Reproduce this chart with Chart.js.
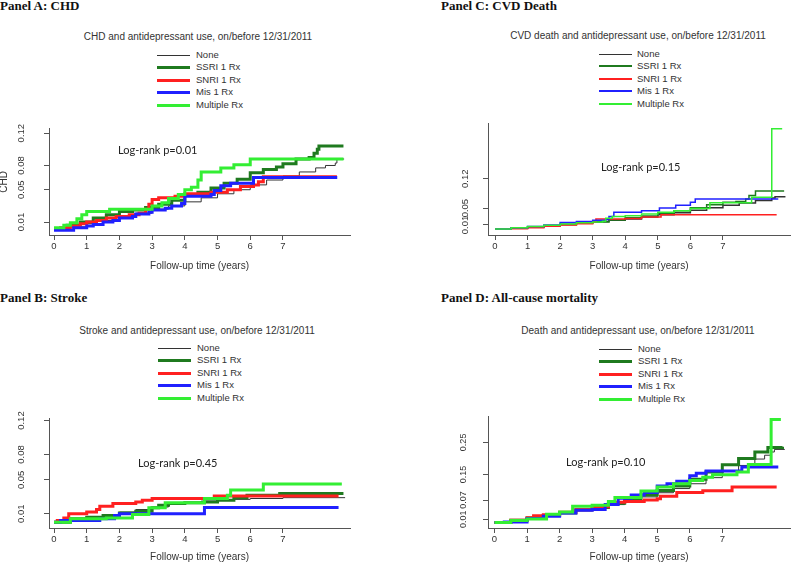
<!DOCTYPE html>
<html>
<head>
<meta charset="utf-8">
<title>Antidepressant use and outcomes</title>
<script src="https://cdn.jsdelivr.net/npm/chart.js@4.4.1/dist/chart.umd.min.js"></script>
<style>
  body { margin: 0; background: #fff; }
  #page { position: relative; width: 800px; height: 567px; overflow: hidden; font-family: "Liberation Sans", Arial, sans-serif; color: #333; }
  .head { position: absolute; font: bold 13px/13px "Liberation Serif", "Times New Roman", serif; color: #111; white-space: nowrap; }
  .ttl { position: absolute; width: 300px; text-align: center; font-size: 10px; line-height: 12px; white-space: nowrap; }
  .lgd { position: absolute; font-size: 9.5px; }
  .lgd .row { position: relative; height: 12.4px; }
  .lgd .ln { position: absolute; left: 0; width: 33px; }
  .lgd .tx { position: absolute; top: 0; line-height: 12.4px; white-space: nowrap; }
  .lr { position: absolute; font: 11px/13px Lato, sans-serif; color: #222; white-space: nowrap; }
  canvas { position: absolute; }
</style>
</head>
<body>
<div id="page">
  <div class="head" style="left:0;top:-1px">Panel A: CHD</div>
  <div class="head" style="left:441px;top:-1px">Panel C: CVD Death</div>
  <div class="head" style="left:0;top:291px">Panel B: Stroke</div>
  <div class="head" style="left:441px;top:291px">Panel D: All-cause mortality</div>

  <div class="ttl" style="left:48px;top:31px">CHD and antidepressant use, on/before 12/31/2011</div>
  <div class="ttl" style="left:488px;top:30px">CVD death and antidepressant use, on/before 12/31/2011</div>
  <div class="ttl" style="left:47px;top:325px">Stroke and antidepressant use, on/before 12/31/2011</div>
  <div class="ttl" style="left:488px;top:325px">Death and antidepressant use, on/before 12/31/2011</div>

  <div class="lgd" id="lgdA" style="left:157px;top:49px"></div>
  <div class="lgd" id="lgdC" style="left:599px;top:48px"></div>
  <div class="lgd" id="lgdB" style="left:158px;top:342px"></div>
  <div class="lgd" id="lgdD" style="left:599px;top:343px"></div>

  <canvas id="chd" width="400" height="170" style="left:0;top:110px"></canvas>
  <canvas id="cvd" width="400" height="170" style="left:400px;top:110px"></canvas>
  <canvas id="stroke" width="400" height="167" style="left:0;top:400px"></canvas>
  <canvas id="death" width="400" height="167" style="left:400px;top:400px"></canvas>

  <div class="lr" id="lrA" style="left:118px;top:143px"></div>
  <div class="lr" id="lrC" style="left:601px;top:160px"></div>
  <div class="lr" id="lrB" style="left:138px;top:456px"></div>
  <div class="lr" id="lrD" style="left:566px;top:455px"></div>
</div>
<script>
const groups = ['None', 'SSRI 1 Rx', 'SNRI 1 Rx', 'Mis 1 Rx', 'Multiple Rx'];
const colors = ['#333333', '#1f7a1f', '#ff2020', '#2020ff', '#33ee33'];
const years = [0, 1, 2, 3, 4, 5, 6, 7];
const chdTicks = [0.01, 0.05, 0.08, 0.12];
const cvdTicks = [0.01, 0.05, 0.12];
const strokeTicks = [0.01, 0.05, 0.08, 0.12];
const deathTicks = [0.01, 0.07, 0.15, 0.25];
const logRank = { A: '0.01', C: '0.15', B: '0.45', D: '0.10' };

// [years, cumulative incidence] for each group
const chdNone = [[0,0],[0.5,0.004],[1,0.008],[1.5,0.012],[2,0.017],[2.5,0.021],[3,0.026],[3.5,0.030],[4,0.035],[4.5,0.040],[5,0.045],[5.5,0.050],[6,0.056],[6.5,0.062],[7,0.067],[7.5,0.072],[8,0.077],[8.3,0.080],[8.6,0.083],[8.65,0.088],[8.87,0.088]];
const chdSSRI = [[0,0.002],[0.4,0.006],[0.8,0.010],[1.2,0.015],[1.6,0.019],[2.0,0.023],[2.4,0.025],[2.8,0.028],[3.2,0.032],[3.6,0.037],[4.0,0.043],[4.4,0.047],[4.8,0.052],[5.2,0.058],[5.6,0.063],[6.0,0.071],[6.4,0.075],[6.8,0.078],[7.0,0.082],[7.4,0.088],[7.8,0.090],[7.95,0.095],[8.05,0.100],[8.1,0.104],[8.85,0.104]];
const chdSNRI = [[0,0.001],[0.2,0.003],[0.5,0.005],[0.8,0.008],[1.0,0.010],[1.3,0.012],[1.6,0.015],[1.9,0.017],[2.3,0.019],[2.6,0.021],[2.8,0.026],[2.9,0.032],[3.0,0.038],[3.2,0.040],[3.7,0.042],[4.0,0.045],[4.8,0.047],[5.3,0.050],[5.7,0.054],[6.1,0.056],[6.25,0.060],[6.4,0.066],[8.65,0.066]];
const chdMis = [[0,0],[0.6,0.003],[1.0,0.005],[1.2,0.007],[1.5,0.010],[1.8,0.012],[2.0,0.015],[2.4,0.017],[2.5,0.020],[2.9,0.022],[3.0,0.025],[3.4,0.027],[3.6,0.030],[3.9,0.033],[4.0,0.042],[4.8,0.044],[4.9,0.049],[5.1,0.055],[5.4,0.058],[6.1,0.065],[8.66,0.065]];
const chdMulti = [[0,0.003],[0.3,0.006],[0.5,0.009],[0.7,0.014],[0.85,0.019],[1.0,0.023],[1.7,0.026],[3.0,0.030],[3.3,0.034],[3.5,0.039],[3.8,0.044],[4.0,0.050],[4.2,0.053],[4.4,0.062],[4.5,0.072],[5.1,0.077],[5.5,0.081],[6.0,0.088],[8.85,0.088]];

const cvdNone = [[0,0],[0.5,0.002],[1,0.005],[1.5,0.008],[2,0.011],[2.5,0.015],[3,0.018],[3.5,0.021],[4,0.024],[4.5,0.029],[5,0.034],[5.5,0.039],[6,0.045],[6.5,0.051],[7,0.057],[7.5,0.062],[8,0.068],[8.5,0.074],[8.6,0.077],[8.92,0.077]];
const cvdSSRI = [[0,0],[0.5,0.003],[1,0.005],[1.5,0.008],[2,0.011],[2.5,0.014],[3,0.017],[3.5,0.022],[4,0.027],[4.5,0.031],[5,0.038],[5.5,0.044],[6,0.051],[6.5,0.058],[7,0.064],[7.4,0.066],[7.7,0.072],[7.8,0.080],[8.0,0.091],[8.88,0.091]];
const cvdSNRI = [[0,0],[0.3,0.001],[1.0,0.003],[1.5,0.007],[2,0.010],[2.5,0.013],[3.0,0.017],[3.1,0.024],[4.0,0.025],[4.5,0.029],[5.1,0.034],[8.65,0.034]];
const cvdMis = [[0,0],[0.5,0.003],[1,0.006],[1.5,0.010],[2,0.016],[2.5,0.018],[3,0.021],[3.4,0.023],[3.5,0.030],[3.65,0.040],[4.5,0.044],[5.05,0.050],[5.55,0.057],[6.0,0.064],[6.15,0.072],[8.7,0.072]];
const cvdMulti = [[0,0],[0.5,0.003],[1,0.006],[1.5,0.009],[2,0.012],[2.5,0.015],[3,0.017],[3.3,0.019],[3.4,0.026],[3.6,0.030],[4.0,0.032],[4.5,0.036],[5.0,0.040],[5.5,0.044],[6.0,0.049],[6.6,0.063],[7.88,0.076],[8.5,0.239],[8.82,0.239]];

const strokeNone = [[0,0],[0.5,0.003],[1,0.006],[1.5,0.009],[2,0.012],[2.5,0.015],[3,0.018],[3.5,0.021],[4,0.023],[4.5,0.025],[5,0.026],[5.5,0.027],[6,0.028],[7,0.029],[8.9,0.029]];
const strokeSSRI = [[0,0],[0.5,0.004],[1,0.006],[1.5,0.008],[2,0.011],[2.5,0.013],[3,0.017],[3.2,0.020],[3.5,0.022],[4.0,0.023],[4.6,0.024],[5.0,0.026],[5.5,0.029],[5.9,0.032],[6.9,0.034],[8.85,0.034]];
const strokeSNRI = [[0,0],[0.1,0.002],[0.3,0.005],[0.45,0.010],[1.0,0.012],[1.3,0.015],[1.4,0.019],[1.8,0.022],[2.5,0.024],[2.7,0.026],[3.0,0.028],[4.9,0.031],[8.7,0.031]];
const strokeMis = [[0,0],[0.2,0.002],[1.4,0.004],[1.85,0.008],[2.0,0.010],[4.6,0.0175],[8.7,0.0175]];
const strokeMulti = [[0,0],[0.5,0.004],[1.6,0.005],[2.4,0.009],[2.9,0.017],[3.4,0.023],[4.6,0.028],[5.3,0.032],[5.4,0.038],[6.4,0.045],[8.8,0.045]];

const deathNone = [[0,0],[0.5,0.007],[1,0.014],[1.5,0.021],[2,0.029],[2.5,0.037],[3,0.046],[3.5,0.056],[4,0.068],[4.5,0.080],[5,0.093],[5.5,0.106],[6,0.121],[6.5,0.140],[7,0.160],[7.5,0.178],[8,0.198],[8.3,0.210],[8.5,0.220],[8.6,0.228],[8.92,0.228]];
const deathSSRI = [[0,0],[0.5,0.007],[1,0.014],[1.5,0.022],[2,0.030],[2.5,0.040],[3,0.047],[3.5,0.060],[4,0.072],[4.5,0.086],[5,0.100],[5.5,0.114],[6,0.135],[6.5,0.158],[7,0.180],[7.5,0.200],[8,0.220],[8.4,0.234],[8.85,0.236]];
const deathSNRI = [[0,0],[0.5,0.007],[1,0.015],[1.2,0.021],[1.5,0.024],[2,0.032],[2.5,0.040],[3,0.049],[3.5,0.057],[3.7,0.063],[4,0.066],[4.6,0.070],[5.0,0.074],[5.1,0.082],[5.6,0.094],[6.4,0.099],[7.3,0.111],[8.67,0.111]];
const deathMis = [[0,0],[0.3,0.002],[1,0.013],[1.5,0.020],[2,0.030],[2.5,0.038],[3,0.041],[3.4,0.056],[3.8,0.076],[4.2,0.086],[4.6,0.094],[5.0,0.114],[5.3,0.121],[5.6,0.129],[6.0,0.146],[6.2,0.154],[6.5,0.161],[7.6,0.173],[8.72,0.173]];
const deathMulti = [[0,0],[0.5,0.006],[1,0.011],[1.6,0.026],[2,0.033],[2.4,0.051],[3.0,0.054],[3.5,0.066],[3.7,0.078],[4.5,0.098],[5.0,0.111],[5.5,0.121],[6.0,0.131],[6.4,0.141],[6.7,0.149],[7.45,0.158],[7.8,0.181],[8.5,0.321],[8.8,0.321]];

const txtColor = '#333';
const axisColor = '#555';

function fillLegend(id, thin) {
  const box = document.getElementById(id);
  groups.forEach((g, i) => {
    const w = thin ? (i === 0 ? 1 : 2) : (i === 0 ? 1 : 3);
    const row = document.createElement('div');
    row.className = 'row';
    row.innerHTML = '<span class="ln" style="top:' + Math.round(6 - w / 2) + 'px;height:' + w + 'px;background:' + colors[i] + '"></span>' +
      '<span class="tx" style="left:' + (thin ? 38 : 39) + 'px">' + g + '</span>';
    box.appendChild(row);
  });
}

function makePanel(p) {
  const widths = p.thin ? [1.5, 1.5, 1.5, 1.5, 1.5] : [1, 3, 3, 3, 3];
  const font = { family: '"Liberation Sans", Arial, sans-serif', size: 10 };
  const tickFont = { family: '"Liberation Sans", Arial, sans-serif', size: p.tickSize || 9.5 };
  return new Chart(document.getElementById(p.id), {
    type: 'line',
    data: {
      datasets: p.series.map((s, i) => ({
        label: groups[i],
        data: s.map(d => ({ x: d[0], y: d[1] })),
        borderColor: colors[i],
        borderWidth: widths[i],
        stepped: true,
        pointRadius: 0,
        fill: false,
        order: groups.length - i
      }))
    },
    options: {
      responsive: false,
      animation: false,
      devicePixelRatio: 1,
      layout: { padding: p.pad },
      plugins: { legend: { display: false }, tooltip: { enabled: false } },
      scales: {
        x: {
          type: 'linear',
          min: p.xMin, max: p.xMax,
          afterBuildTicks: s => { s.ticks = years.map(v => ({ value: v })); },
          afterFit: s => { s.height = p.xH; },
          ticks: { font: { family: tickFont.family, size: 9.5 }, color: txtColor, padding: 1, autoSkip: false, maxRotation: 0 },
          grid: { drawOnChartArea: false, drawTicks: true, tickLength: 5, color: axisColor },
          border: { color: axisColor, width: 1 },
          title: { display: true, text: 'Follow-up time (years)', font: font, color: txtColor, padding: { top: 0, bottom: p.xTitlePad } }
        },
        y: {
          type: 'linear',
          min: p.yMin, max: p.yMax,
          afterBuildTicks: s => { s.ticks = p.yTicks.map(v => ({ value: v })); },
          afterFit: s => { s.width = 49; },
          ticks: {
            font: tickFont, color: txtColor, autoSkip: false,
            minRotation: 90, maxRotation: 90, crossAlign: 'center', padding: p.yLabelPad,
            callback: v => v.toFixed(2)
          },
          grid: { drawOnChartArea: false, drawTicks: true, tickLength: 5, color: axisColor },
          border: { color: axisColor, width: 1 },
          title: { display: !!p.yTitle, text: p.yTitle || '', font: font, color: txtColor, padding: { top: -2, bottom: 0 } }
        }
      }
    }
  });
}

fillLegend('lgdA', false);
fillLegend('lgdC', true);
fillLegend('lgdB', false);
fillLegend('lgdD', false);

['A', 'C', 'B', 'D'].forEach(k => {
  document.getElementById('lr' + k).textContent = 'Log-rank p=' + logRank[k];
});

makePanel({
  id: 'chd', series: [chdNone, chdSSRI, chdSNRI, chdMis, chdMulti], yTicks: chdTicks, yTitle: 'CHD',
  pad: { left: 0, top: 9, right: 50, bottom: 0 }, xH: 45, xTitlePad: 8, yLabelPad: 13,
  xMin: -0.153, xMax: 9.05, yMin: -0.006, yMax: 0.1255
});
makePanel({
  id: 'cvd', series: [cvdNone, cvdSSRI, cvdSNRI, cvdMis, cvdMulti], yTicks: cvdTicks, thin: true,
  pad: { left: 39, top: 7, right: 10, bottom: 0 }, xH: 45, xTitlePad: 8, yLabelPad: 8,
  xMin: -0.215, xMax: 9.06, yMin: -0.014, yMax: 0.251
});
makePanel({
  id: 'stroke', series: [strokeNone, strokeSSRI, strokeSNRI, strokeMis, strokeMulti], yTicks: strokeTicks,
  pad: { left: 0, top: 13, right: 50, bottom: 0 }, xH: 39, xTitlePad: 4, yLabelPad: 13,
  xMin: -0.153, xMax: 9.05, yMin: -0.0068, yMax: 0.1222
});
makePanel({
  id: 'death', series: [deathNone, deathSSRI, deathSNRI, deathMis, deathMulti], yTicks: deathTicks, tickSize: 9,
  pad: { left: 39, top: 12, right: 10, bottom: 0 }, xH: 39, xTitlePad: 4, yLabelPad: 11,
  xMin: -0.2, xMax: 9.08, yMin: -0.017, yMax: 0.331
});
</script>
</body>
</html>
